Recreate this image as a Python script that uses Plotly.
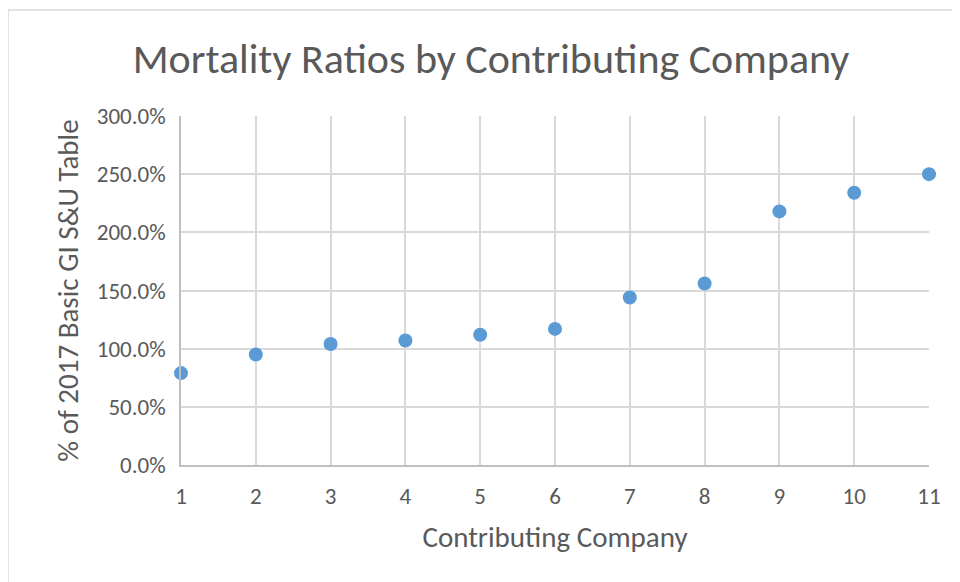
import plotly.graph_objects as go

companies = [1, 2, 3, 4, 5, 6, 7, 8, 9, 10, 11]
ratios = [0.79, 0.95, 1.04, 1.07, 1.12, 1.17, 1.44, 1.56, 2.18, 2.34, 2.50]
y_ticks = [0, 0.5, 1.0, 1.5, 2.0, 2.5, 3.0]

# the page body adds an 8px margin, so figure coords = screen coords - 8
OFF = 8
W, H = 960 - OFF, 582 - OFF
L, T = 181 - OFF, 116 - OFF
pw, ph = 748, 349
R, B = W - L - pw, H - T - ph

def px(x):
    return (x - OFF - L) / pw

def py(y):
    return (T + ph - (y - OFF)) / ph

fnt = "Carlito, Calibri, Lato, sans-serif"
grey = "#595959"

fig = go.Figure()
fig.add_trace(go.Scatter(
    x=companies, y=ratios, mode="markers",
    marker=dict(color="#5B9BD5", size=14, line=dict(width=0)),
    cliponaxis=False, showlegend=False,
))

fig.update_layout(
    width=W, height=H,
    margin=dict(l=L, r=R, t=T, b=B),
    paper_bgcolor="white", plot_bgcolor="white",
    font=dict(family=fnt, color=grey),
    title=dict(text="Mortality Ratios by Contributing Company",
               x=(491 - OFF) / W, xanchor="center",
               y=1 - (58 - OFF) / H, yanchor="middle",
               font=dict(size=42, color=grey, family=fnt)),
    xaxis=dict(range=[1, 11], tickvals=companies, showgrid=True,
               gridcolor="#D9D9D9", gridwidth=1.5, zeroline=False,
               showline=True, linecolor="#BFBFBF", linewidth=1.5,
               ticks="", ticklabelstandoff=10,
               tickfont=dict(size=23, color=grey),
               title=dict(text="Contributing Company", standoff=17,
                          font=dict(size=29, color=grey))),
    yaxis=dict(range=[0, 3], tickvals=y_ticks, tickformat=".1%",
               showgrid=True, gridcolor="#D9D9D9", gridwidth=1.5,
               zeroline=False, showline=True, linecolor="#BFBFBF",
               linewidth=1.5, ticks="", ticklabelstandoff=9,
               tickfont=dict(size=23, color=grey),
               title=dict(text="% of 2017 Basic GI S&U Table", standoff=10,
                          font=dict(size=29, color=grey))),
    shapes=[dict(type="rect", xref="paper", yref="paper",
                 x0=px(8), x1=px(975), y0=py(10), y1=py(600),
                 line=dict(color="#D9D9D9", width=1.5), layer="below")],
)

fig.write_html("out.html")
